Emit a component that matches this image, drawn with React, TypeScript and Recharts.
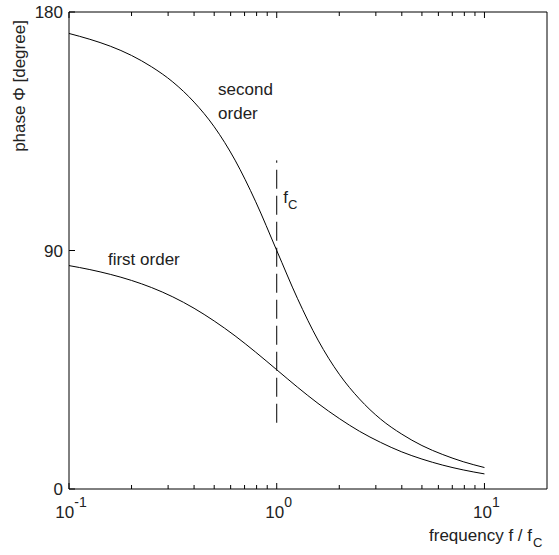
import React from 'react';
import { LineChart, Line, XAxis, YAxis, ReferenceLine, ReferenceDot } from 'recharts';

// normalised frequency f / fc
const freqs = [0.1, 0.126, 0.158, 0.2, 0.25, 0.316, 0.4, 0.5, 0.63, 0.79, 1, 1.26, 1.58, 2, 2.5, 3.16, 4, 5, 6.3, 7.9, 10];
// phase in degrees
const firstOrder = [84.3, 82.8, 81.0, 78.7, 76.0, 72.5, 68.2, 63.4, 57.8, 51.7, 45.0, 38.4, 32.3, 26.6, 21.8, 17.6, 14.0, 11.3, 9.0, 7.2, 5.7];
const secondOrder = [171.9, 169.7, 167.1, 163.6, 159.3, 153.6, 146.0, 136.7, 124.1, 108.6, 90.0, 71.8, 56.2, 43.3, 34.0, 26.4, 20.7, 16.4, 13.0, 10.3, 8.1];

const freqTicks = [0.1, 0.2, 0.3, 0.4, 0.5, 0.6, 0.7, 0.8, 0.9, 1, 2, 3, 4, 5, 6, 7, 8, 9, 10];
const decadeTicks: Record<number, string> = { 0.1: '-1', 1: '0', 10: '1' };
const phaseTicks = [0, 90, 180];

// dashed marker at the corner frequency
const cornerFreq = 1;
const cornerSpan = [25, 124];

const annotations = [
  { f: 0.522, phase: 150.9, text: 'second' },
  { f: 0.522, phase: 141.9, text: 'order' },
  { f: 0.154, phase: 86.8, text: 'first order' },
];

const data = freqs.map((f, i) => ({ f, first: firstOrder[i], second: secondOrder[i] }));

const FONT = '"Liberation Sans", Arial, sans-serif';
const INK = '#222';
const FS = 17;

if (typeof document !== 'undefined') document.body.style.margin = '0';

const BottomTick = (props: any) => {
  const { x, y, payload } = props;
  const exp = decadeTicks[payload.value];
  const len = exp !== undefined ? 6 : 4;
  return (
    <g>
      <line x1={x} y1={y} x2={x} y2={y - len} stroke="#000" />
      {exp !== undefined && (
        <text x={x + 2} y={y + 29} textAnchor="middle" fontSize={FS} fontFamily={FONT} fill={INK}>
          10<tspan dy={-11} fontSize={14}>{exp}</tspan>
        </text>
      )}
    </g>
  );
};

const TopTick = (props: any) => {
  const { x, y, payload } = props;
  const len = decadeTicks[payload.value] !== undefined ? 6 : 4;
  return <line x1={x} y1={y} x2={x} y2={y + len} stroke="#000" />;
};

const LeftTick = (props: any) => {
  const { x, y, payload } = props;
  return (
    <g>
      <line x1={x} y1={y} x2={x + 6} y2={y} stroke="#000" />
      <text x={x - 6} y={y + 6} textAnchor="end" fontSize={FS} fontFamily={FONT} fill={INK}>
        {payload.value}
      </text>
    </g>
  );
};

const RightTick = (props: any) => {
  const { x, y } = props;
  return <line x1={x} y1={y} x2={x - 6} y2={y} stroke="#000" />;
};

const NoteText = (text: string) => (props: any) => (
  <text x={props.cx} y={props.cy + 6} fontSize={FS} fontFamily={FONT} fill={INK}>
    {text}
  </text>
);

const CornerLabel = (props: any) => (
  <text x={props.cx} y={props.cy + 6} fontSize={FS} fontFamily={FONT} fill={INK}>
    f<tspan dy={6} fontSize={13}>C</tspan>
  </text>
);

export default function App() {
  return (
    <div style={{ position: 'relative', width: 559, height: 555, background: '#fff' }}>
      <LineChart width={559} height={555} data={data} margin={{ top: 0, right: 0, bottom: 0, left: 0 }}>
        <XAxis
          xAxisId="bottom"
          dataKey="f"
          type="number"
          scale="log"
          domain={[0.1, 20]}
          allowDataOverflow
          ticks={freqTicks}
          interval={0}
          height={66}
          tickSize={0}
          tickMargin={0}
          tickLine={false}
          axisLine={{ stroke: '#000' }}
          tick={BottomTick}
        />
        <XAxis
          xAxisId="top"
          orientation="top"
          dataKey="f"
          type="number"
          scale="log"
          domain={[0.1, 20]}
          allowDataOverflow
          ticks={freqTicks}
          interval={0}
          height={12}
          tickSize={0}
          tickMargin={0}
          tickLine={false}
          axisLine={{ stroke: '#000' }}
          tick={TopTick}
        />
        <YAxis
          yAxisId="left"
          domain={[0, 180]}
          ticks={phaseTicks}
          interval={0}
          width={69}
          tickSize={0}
          tickMargin={0}
          tickLine={false}
          axisLine={{ stroke: '#000' }}
          tick={LeftTick}
        />
        <YAxis
          yAxisId="right"
          orientation="right"
          domain={[0, 180]}
          ticks={phaseTicks}
          interval={0}
          width={12}
          tickSize={0}
          tickMargin={0}
          tickLine={false}
          axisLine={{ stroke: '#000' }}
          tick={RightTick}
        />
        <Line xAxisId="bottom" yAxisId="left" type="monotone" dataKey="second" stroke="#000" strokeWidth={1} dot={false} isAnimationActive={false} />
        <Line xAxisId="bottom" yAxisId="left" type="monotone" dataKey="first" stroke="#000" strokeWidth={1} dot={false} isAnimationActive={false} />
        <ReferenceLine
          xAxisId="bottom"
          yAxisId="left"
          segment={[{ x: cornerFreq, y: cornerSpan[0] }, { x: cornerFreq, y: cornerSpan[1] }]}
          stroke="#000"
          strokeDasharray="19 7"
        />
        {annotations.map((a) => (
          <ReferenceDot key={a.text} xAxisId="bottom" yAxisId="left" x={a.f} y={a.phase} r={0} shape={NoteText(a.text)} />
        ))}
        <ReferenceDot xAxisId="bottom" yAxisId="left" x={1.074} y={110.2} r={0} shape={CornerLabel} />
      </LineChart>
      <svg width={559} height={555} style={{ position: 'absolute', left: 0, top: 0, pointerEvents: 'none' }}>
        <text transform="translate(25,86) rotate(-90)" textAnchor="middle" fontSize={FS} fontFamily={FONT} fill={INK}>
          phase Φ [degree]
        </text>
        <text x={532} y={541} textAnchor="end" fontSize={FS} fontFamily={FONT} fill={INK}>
          frequency f / f
        </text>
        <text x={533} y={547} fontSize={13} fontFamily={FONT} fill={INK}>
          C
        </text>
      </svg>
    </div>
  );
}
